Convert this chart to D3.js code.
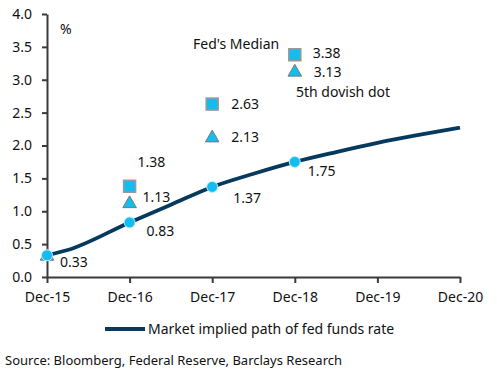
<!DOCTYPE html>
<html>
<head>
<meta charset="utf-8">
<script src="https://cdn.jsdelivr.net/npm/d3@7"></script>
<style>
  body { margin: 0; background: #fff; }
  text { font-family: "Noto Sans", sans-serif; }
</style>
</head>
<body>
<div id="chart"></div>
<script>
// x is measured in months after Dec-15
const xTickMonths = [0, 12, 24, 36, 48, 60];
const xTickLabels = ['Dec-15', 'Dec-16', 'Dec-17', 'Dec-18', 'Dec-19', 'Dec-20'];
const yTicks = [0, 0.5, 1, 1.5, 2, 2.5, 3, 3.5, 4];

// market implied path
const pathMonths = [0, 3, 12, 18, 24, 30, 36, 42, 48, 54, 60];
const pathValues = [0.33, 0.41, 0.83, 1.10, 1.37, 1.57, 1.75, 1.90, 2.04, 2.16, 2.27];

// year-end markers
const marketMonths = [0, 12, 24, 36];
const marketValues = [0.33, 0.83, 1.37, 1.75];
const medianMonths = [12, 24, 36];
const medianValues = [1.38, 2.63, 3.38];
const dovishMonths = [0, 12, 24, 36];
const dovishValues = [0.33, 1.13, 2.13, 3.13];

const width = 497, height = 374;
const svg = d3.select('#chart').append('svg')
  .attr('width', width)
  .attr('height', height);

const x = d3.scaleLinear().domain([0, 60]).range([47, 460]);
const y = d3.scaleLinear().domain([0, 4]).range([277, 14]);

const axisColor = '#3a3a3a';
const lineColor = '#053a5e';
const markerFill = '#14bdf0';

// Axes
const yAxis = svg.append('g')
  .attr('transform', `translate(${x(0)},0)`)
  .call(d3.axisLeft(y).tickValues(yTicks).tickFormat(d3.format('.1f')).tickSize(5).tickSizeOuter(0).tickPadding(10));

const xAxis = svg.append('g')
  .attr('transform', `translate(0,${y(0)})`)
  .call(d3.axisBottom(x).tickValues(xTickMonths).tickFormat((d, i) => xTickLabels[i]).tickSize(6).tickSizeOuter(0).tickPadding(9));

[yAxis, xAxis].forEach(a => {
  a.select('.domain').attr('stroke', axisColor).attr('stroke-width', 2);
  a.selectAll('.tick line').attr('stroke', axisColor).attr('stroke-width', 2);
  a.selectAll('.tick text')
    .attr('font-family', '"Noto Sans", sans-serif')
    .attr('font-size', '14px')
    .attr('fill', '#111');
});

// Market implied path
const line = d3.line()
  .x((d, i) => x(pathMonths[i]))
  .y(d => y(d))
  .curve(d3.curveMonotoneX);

svg.append('path')
  .datum(pathValues)
  .attr('d', line)
  .attr('fill', 'none')
  .attr('stroke', lineColor)
  .attr('stroke-width', 3.8);

// Fed's median squares
svg.append('g')
  .selectAll('rect')
  .data(medianValues)
  .join('rect')
  .attr('x', (d, i) => x(medianMonths[i]) - 6)
  .attr('y', d => y(d) - 6)
  .attr('width', 12)
  .attr('height', 12)
  .attr('fill', markerFill)
  .attr('stroke', '#9a9a9a')
  .attr('stroke-width', 1.5);

// 5th dovish dot triangles
const tri = d3.symbol().type(d3.symbolTriangle).size(80);
svg.append('g')
  .selectAll('path')
  .data(dovishValues)
  .join('path')
  .attr('d', tri)
  .attr('transform', (d, i) => `translate(${x(dovishMonths[i])},${y(d) + 1})`)
  .attr('fill', markerFill)
  .attr('stroke', '#7a7a7a')
  .attr('stroke-width', 1);

// Market circles
svg.append('g')
  .selectAll('circle')
  .data(marketValues)
  .join('circle')
  .attr('cx', (d, i) => x(marketMonths[i]))
  .attr('cy', d => y(d))
  .attr('r', 5.5)
  .attr('fill', markerFill)
  .attr('stroke', '#bfeefc')
  .attr('stroke-width', 1);

// Value labels
const fmt = d3.format('.2f');
function labels(months, values, dx, dy) {
  svg.append('g')
    .selectAll('text')
    .data(values)
    .join('text')
    .attr('x', (d, i) => x(months[i]) + dx[i])
    .attr('y', (d, i) => y(d) + dy[i])
    .attr('dy', '0.35em')
    .attr('font-size', '14px')
    .attr('fill', '#111')
    .text(d => fmt(d));
}
labels(marketMonths, marketValues, [13, 17, 21, 13], [7, 9, 11, 9]);
labels(medianMonths, medianValues, [8, 19, 18], [-24, 0, -2]);
labels(dovishMonths.slice(1), dovishValues.slice(1), [13, 19, 19], [-6, 0, 1]);

// Annotations
svg.append('text').attr('x', 60).attr('y', 29).attr('dy', '0.35em')
  .attr('font-size', '14px').attr('fill', '#111').text('%');
svg.append('text').attr('x', 193).attr('y', 44).attr('dy', '0.35em')
  .attr('font-size', '14px').attr('fill', '#111').text("Fed's Median");
svg.append('text').attr('x', 296).attr('y', 92).attr('dy', '0.35em')
  .attr('font-size', '14px').attr('fill', '#111').text('5th dovish dot');

// Legend
svg.append('line')
  .attr('x1', 105).attr('x2', 145)
  .attr('y1', 329).attr('y2', 329)
  .attr('stroke', lineColor)
  .attr('stroke-width', 3.8);
svg.append('text').attr('x', 148).attr('y', 329).attr('dy', '0.35em')
  .attr('font-size', '14px').attr('fill', '#111')
  .text('Market implied path of fed funds rate');

// Source
svg.append('text').attr('x', 5).attr('y', 360).attr('dy', '0.35em')
  .attr('font-size', '13px').attr('fill', '#111')
  .text('Source: Bloomberg, Federal Reserve, Barclays Research');
</script>
</body>
</html>
